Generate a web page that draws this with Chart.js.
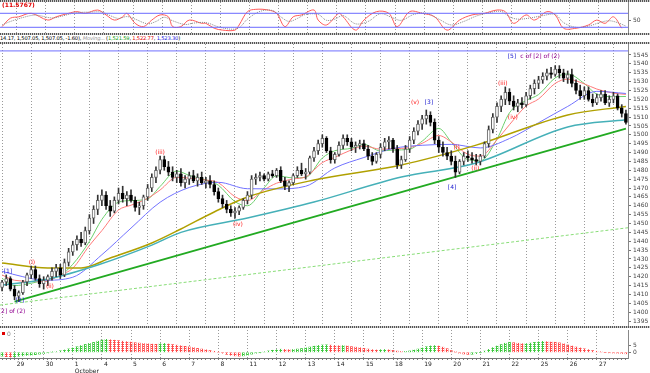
<!DOCTYPE html>
<html><head><meta charset="utf-8">
<script src="https://cdn.jsdelivr.net/npm/chart.js@4.4.1/dist/chart.umd.min.js"></script>
<style>
html,body{margin:0;padding:0;background:#fff;width:650px;height:373px;overflow:hidden;font-family:"DejaVu Sans",sans-serif;}
canvas{position:absolute;left:0;}
.hatch{position:absolute;left:0;width:650px;height:2px;background:repeating-linear-gradient(90deg,#555 0 1px,#ccc 1px 2px);}
.txt{position:absolute;white-space:nowrap;font-size:6px;line-height:7px;}
</style></head><body>
<div class="hatch" style="top:0"></div>
<canvas id="c1" width="650" height="31" style="top:2px"></canvas>
<div class="hatch" style="top:33px"></div>
<div class="txt" style="top:1px;left:2px;color:#e00000;font-weight:bold">(11.5767)</div>
<div class="txt" style="top:35px;left:0;color:#000;font-size:5.2px;letter-spacing:-0.2px">14.17, 1,507.05, 1,507.05, -1.60), <span style="color:#999;font-style:italic">Moving...</span> (<span style="color:#20a020">1,521.59</span>, <span style="color:#e00000">1,522.77</span>, <span style="color:#2020e0">1,523.30</span>)</div>
<div class="hatch" style="top:42px"></div>
<canvas id="c2" width="650" height="282" style="top:44px"></canvas>
<div class="hatch" style="top:326px"></div>
<canvas id="c3" width="650" height="43" style="top:330px"></canvas>
<div style="position:absolute;left:2px;top:332px;width:3px;height:3px;background:#e00000"></div>
<div class="txt" style="top:330px;left:7px;color:#888">0</div>
<script>
// ---------------- DATA ----------------
const dayLabels = ['29','30','1','4','5','6','7','8','11','12','13','14','15','18','19','20','21','22','25','26','27'];
const monthLabels = {'1':'October'};
const leadCandles = 4;      // candles of 28 Sep visible at the left
const candlesPerDay = 7;

// hourly candles [open, high, low, close]
const ohlc = [
// 28 Sep
[1414,1418,1412,1417],[1417,1421,1415,1419],[1419,1420,1412,1413],[1413,1415,1407,1409],
// 29
[1409,1412,1406,1411],[1411,1418,1410,1417],[1417,1422,1415,1421],[1421,1426,1419,1424],[1424,1426,1418,1419],[1419,1421,1414,1416],[1416,1420,1413,1418],
// 30
[1418,1421,1415,1420],[1420,1425,1418,1423],[1423,1427,1420,1425],[1425,1427,1419,1421],[1421,1430,1420,1428],[1428,1436,1426,1434],[1434,1440,1432,1438],
// 1 Oct
[1438,1443,1435,1441],[1441,1445,1437,1439],[1439,1448,1438,1446],[1446,1455,1444,1453],[1453,1460,1450,1458],[1458,1466,1455,1463],[1463,1469,1460,1466],
// 4
[1466,1468,1458,1460],[1460,1463,1454,1457],[1457,1465,1456,1463],[1463,1470,1461,1467],[1467,1471,1462,1464],[1464,1468,1460,1466],[1466,1469,1462,1463],
// 5
[1463,1465,1457,1459],[1459,1462,1455,1460],[1460,1466,1458,1465],[1465,1472,1463,1470],[1470,1478,1468,1476],[1476,1482,1473,1480],[1480,1488,1478,1486],
// 6
[1486,1488,1480,1482],[1482,1485,1477,1479],[1479,1482,1474,1476],[1476,1480,1473,1478],[1478,1481,1471,1473],[1473,1477,1470,1475],[1475,1479,1472,1477],
// 7
[1477,1480,1473,1474],[1474,1478,1471,1476],[1476,1479,1472,1473],[1473,1476,1470,1474],[1474,1477,1470,1472],[1472,1474,1466,1468],[1468,1470,1462,1464],
// 8
[1464,1466,1459,1461],[1461,1463,1456,1458],[1458,1460,1454,1456],[1456,1459,1453,1457],[1457,1460,1455,1459],[1459,1464,1458,1463],[1463,1468,1461,1466],
// 11
[1466,1477,1464,1475],[1475,1478,1472,1476],[1476,1479,1474,1477],[1477,1478,1474,1475],[1475,1479,1474,1478],[1478,1480,1476,1477],[1477,1481,1476,1480],
// 12
[1480,1482,1473,1474],[1474,1476,1469,1471],[1471,1474,1468,1473],[1473,1478,1472,1477],[1477,1482,1476,1480],[1480,1484,1477,1478],[1478,1481,1475,1479],
// 13
[1479,1488,1478,1487],[1487,1493,1485,1491],[1491,1497,1489,1495],[1495,1500,1493,1498],[1498,1499,1490,1491],[1491,1493,1484,1486],[1486,1490,1484,1489],
// 14
[1489,1496,1488,1494],[1494,1500,1492,1498],[1498,1500,1494,1496],[1496,1498,1491,1493],[1493,1496,1490,1494],[1494,1497,1492,1495],[1495,1497,1491,1492],
// 15
[1492,1494,1486,1488],[1488,1490,1483,1485],[1485,1490,1484,1489],[1489,1495,1487,1493],[1493,1498,1491,1496],[1496,1499,1492,1497],[1497,1498,1490,1492],
// 18
[1492,1494,1481,1483],[1483,1488,1481,1486],[1486,1494,1485,1492],[1492,1499,1490,1497],[1497,1504,1495,1502],[1502,1508,1500,1506],[1506,1511,1503,1509],
// 19
[1509,1514,1506,1511],[1511,1513,1505,1507],[1507,1509,1495,1497],[1497,1499,1490,1493],[1493,1496,1488,1490],[1490,1493,1486,1488],[1488,1491,1483,1485],
// 20
[1485,1488,1476,1479],[1479,1486,1478,1485],[1485,1490,1483,1488],[1488,1491,1485,1487],[1487,1490,1484,1486],[1486,1489,1483,1485],[1485,1489,1483,1488],
// 21
[1488,1496,1487,1495],[1495,1505,1493,1503],[1503,1512,1501,1510],[1510,1518,1507,1516],[1516,1522,1513,1520],[1520,1527,1517,1524],[1524,1526,1517,1519],
// 22
[1519,1522,1514,1516],[1516,1520,1513,1518],[1518,1521,1515,1517],[1517,1524,1516,1522],[1522,1528,1520,1526],[1526,1531,1523,1529],[1529,1533,1526,1531],
// 25
[1531,1535,1529,1533],[1533,1537,1531,1535],[1535,1538,1532,1534],[1534,1539,1533,1537],[1537,1539,1532,1535],[1535,1537,1530,1532],[1532,1536,1529,1534],
// 26
[1534,1537,1527,1529],[1529,1531,1523,1525],[1525,1528,1520,1522],[1522,1527,1520,1525],[1525,1527,1519,1520],[1520,1523,1516,1518],[1518,1523,1517,1521],
// 27
[1521,1525,1519,1523],[1523,1525,1517,1518],[1518,1522,1516,1520],[1520,1524,1518,1522],[1522,1523,1514,1515],[1515,1517,1510,1512],[1512,1514,1506,1507]
];

// moving averages: [candle index, price]
const maGreen = [[0,1419],[3,1415],[7,1416.3],[10,1418],[14,1420.7],[17,1427],[21,1439.9],[24,1452.3],[28,1462],[31,1462.9],[35,1463.9],[38,1470.9],[42,1479.6],[45,1477.1],[49,1474.6],[52,1471.6],[56,1462.3],[59,1460],[63,1470.1],[66,1476.9],[70,1475.7],[73,1476],[77,1486.9],[80,1491],[84,1492.4],[87,1494.6],[91,1490.9],[94,1491.4],[98,1491.9],[101,1496.4],[105,1503.6],[108,1495.9],[112,1486],[115,1485.4],[119,1497.6],[122,1512.4],[126,1519.4],[129,1522.7],[133,1532.1],[136,1534.3],[140,1528.9],[143,1522.9],[147,1521.5],[150,1521.6]];
const maRed = [[0,1421],[3,1418],[10,1417.2],[14,1420.9],[17,1424.8],[21,1437.6],[24,1446],[28,1457.6],[31,1460.3],[35,1464.2],[38,1468.9],[42,1476],[45,1475.6],[49,1474.5],[52,1473],[56,1465.1],[59,1462.9],[63,1469],[66,1472.7],[70,1475.1],[73,1476.3],[77,1484.3],[80,1487.3],[84,1491.5],[87,1493.7],[91,1491.9],[94,1492.2],[98,1492.8],[101,1495.2],[105,1499.6],[108,1496],[112,1489],[115,1488],[119,1497.2],[122,1505.7],[126,1516.2],[129,1520.2],[133,1529],[136,1531.4],[140,1528.7],[143,1525.8],[147,1523.5],[150,1522.8]];
const maBlue = [[0,1423],[5,1420],[10,1418],[17,1419.7],[24,1432.4],[31,1447.4],[38,1462],[45,1470.3],[52,1473.2],[59,1469.6],[66,1469.5],[73,1471],[80,1481.3],[87,1487.2],[94,1492.3],[101,1494.1],[108,1494.6],[115,1492.6],[122,1497.9],[129,1506.8],[136,1516],[143,1524.5],[150,1523.3]];
const maOlive = [[0,1427.7],[11,1424.9],[19,1424.9],[26,1430.5],[36,1439],[43,1446.9],[51,1456.5],[59,1464.9],[75,1474.5],[96,1483],[114,1494.2],[136,1511.2],[150,1516]];
const maTeal = [[0,1415.3],[11,1418.7],[23,1426.6],[36,1437.8],[43,1445],[59,1453.1],[75,1462.1],[96,1476.2],[114,1484.1],[136,1504.4],[150,1508.5]];
const trendMain = [[3,1406],[150,1503.5]];
const trendLower = [[-0.5,1404],[150.5,1447.6]];
const levelTop = [[-0.5,1547.3],[150.5,1547.3]];

// stochastic (%K and %D): [candle index, value]
const stochK = [[0,23],[2,59],[4,65],[7,80],[11,51],[13,65],[16,80],[18,87],[20,80],[23,94],[25,73],[27,51],[29,65],[30,80],[32,37],[34,23],[36,51],[38,73],[40,65],[41,23],[43,23],[45,51],[48,37],[49,37],[51,16],[53,8],[56,8],[57,30],[59,87],[61,97],[64,94],[66,80],[68,23],[70,65],[72,73],[75,94],[76,51],[78,30],[81,80],[82,65],[85,8],[87,51],[90,87],[93,80],[95,23],[98,87],[101,80],[104,65],[107,8],[110,51],[113,73],[116,80],[119,94],[121,87],[123,37],[126,73],[128,51],[131,87],[133,73],[135,16],[138,16],[141,30],[143,51],[145,37],[147,65],[149,16]];
const stochD = [[0,30],[2,45],[5,62],[8,72],[12,60],[14,66],[17,80],[19,84],[21,85],[24,85],[26,70],[28,58],[30,66],[32,55],[35,35],[37,45],[39,63],[41,48],[44,32],[46,38],[49,40],[52,22],[55,12],[57,18],[59,55],[62,88],[65,92],[67,65],[69,45],[71,58],[73,75],[76,75],[78,50],[80,55],[82,70],[85,35],[88,45],[91,78],[94,60],[96,50],[99,75],[102,80],[105,55],[108,30],[111,45],[114,68],[117,82],[120,88],[122,65],[124,55],[127,60],[130,70],[133,75],[135,40],[138,20],[141,25],[144,42],[146,48],[148,40],[150,25]];
const stochLevels = [80, 20];

// histogram (bottom panel), one value per candle
const hist = [
-2.6,-3.0,-3.3,-3.1,
-2.6,-2.4,-2.1,-1.9,-1.6,-1.2,-0.8,
-0.4,0.2,0.4,1.0,1.6,2.3,3.0,
3.8,4.6,5.4,6.1,6.8,7.6,8.4,
8.9,8.6,8.3,8.0,7.6,7.3,7.0,
6.6,6.3,6.0,5.8,5.6,5.5,5.9,
6.1,5.7,5.3,4.9,4.5,4.1,3.7,
3.2,2.7,2.2,1.7,1.2,0.7,0.2,
-0.6,-1.4,-2.0,-2.4,-2.6,-2.4,-1.9,
-1.2,-0.6,-0.2,0.3,0.9,1.4,1.8,
2.1,2.0,1.8,1.9,2.2,2.6,3.0,
3.6,4.2,4.7,5.0,5.1,4.9,4.7,
4.5,4.6,4.3,3.9,3.5,3.1,2.7,
2.2,1.8,1.6,1.8,1.9,1.7,1.3,
0.8,0.5,0.6,0.9,1.5,2.2,3.0,
3.8,4.4,4.6,4.3,3.5,2.5,1.2,
0.2,-0.6,-1.1,-1.4,-1.3,-0.9,-0.2,
0.8,2.0,3.2,4.3,5.3,6.2,6.9,
6.6,6.2,5.9,6.0,6.3,6.8,7.2,
7.5,7.3,7.0,6.9,6.5,5.8,5.0,
4.3,3.6,3.0,2.4,1.8,1.2,0.7,
0.3,0.0,-0.3,-0.5,-0.6,-0.8,-1.0
];

const priceTicks = {min:1395, max:1545, step:5};
const stochTicks = [50];
const histTicks = [0, 5];

// Elliott wave labels: [candle index, price, text, kind]
const waveLabels = [
[1.4,1423,'[1]','major'],[7.2,1428,'(i)','minor'],[11.5,1414.5,'(ii)','minor'],[4.3,1406.5,'[2]','major'],
[-0.8,1400.5,'[2] of (2)','cycle'],
[38,1490,'(iii)','minor'],[56.7,1449.5,'(iv)','minor'],
[99.3,1518,'(v)','minor'],[102.6,1518,'[3]','major'],
[109.3,1493,'(i)','minor'],[113.8,1481.3,'(ii)','minor'],[108.2,1470.6,'[4]','major'],
[120.4,1529.2,'(iii)','minor'],[122.8,1510,'(iv)','minor'],
[122.6,1544,'[5]','major'],[124.6,1544,'c of [2] of (2)','cycle']
];

// ---------------- RENDER ----------------
const N = ohlc.length;
const XMIN = -0.5, XMAX = N - 0.5;
const dayStarts = dayLabels.map((d, k) => leadCandles + k * candlesPerDay);
const dayTickVals = dayStarts.map(s => s - 0.5);
const pts = arr => arr.map(([x, y]) => ({x, y}));
const waveColors = {minor:'#ff2020', major:'#2020d0', cycle:'#900090'};
const FONT = '"DejaVu Sans", sans-serif';

function dotPattern(color){
  const c = document.createElement('canvas'); c.width = 2; c.height = 2;
  const g = c.getContext('2d'); g.fillStyle = color; g.fillRect(0, 0, 2, 1); g.fillRect(0, 1, 1, 1);
  return g.createPattern(c, 'repeat');
}
const patGreen = dotPattern('#3cc83c');
const patRed = dotPattern('#ff4a4a');

function hiddenX(){
  return {type:'linear', min:XMIN, max:XMAX, offset:false,
    afterBuildTicks: s => { s.ticks = dayTickVals.map(v => ({value:v})); },
    afterFit: s => { s.height = 0; s.paddingLeft = 0; s.paddingRight = 0; },
    ticks:{display:false}, grid:{color:'#9a9a9a', drawTicks:false, lineWidth:1},
    border:{display:false, dash:[1,2]}};
}
function rightY(min, max, ticks, extra){
  return Object.assign({type:'linear', position:'right', min, max,
    afterBuildTicks: s => { s.ticks = ticks.map(v => ({value:v})); },
    afterFit: s => { s.width = 22; s.paddingTop = 0; s.paddingBottom = 0; },
    ticks:{font:{family:FONT, size:6}, color:'#444', padding:2, autoSkip:false, callback: v => String(v)},
    grid:{drawOnChartArea:false, tickLength:3, tickColor:'#777'},
    border:{display:true, color:'#888'}}, extra||{});
}
const baseOpts = {responsive:false, animation:false, events:[], layout:{padding:0},
  plugins:{legend:{display:false}, tooltip:{enabled:false}}};

// --- stochastic panel
new Chart(document.getElementById('c1'), {
  type:'line',
  data:{datasets:[
    ...stochLevels.map(v => ({data:[{x:XMIN,y:v},{x:XMAX,y:v}], borderColor:'#6a6aff', borderWidth:1, pointRadius:0})),
    {data:pts(stochD), borderColor:'#888', borderWidth:1, borderDash:[1,1], pointRadius:0, tension:0.35},
    {data:pts(stochK), borderColor:'#ff5a5a', borderWidth:1, pointRadius:0, tension:0.35}
  ]},
  options:Object.assign({}, baseOpts, {scales:{x:hiddenX(), y:rightY(-4.4, 128.4, stochTicks)}})
});

// --- main price panel
const ticksPrice = [];
for (let v = priceTicks.min; v <= priceTicks.max; v += priceTicks.step) ticksPrice.push(v);
const up = i => ohlc[i][3] >= ohlc[i][0];
const lineDs = (arr, color, width, extra) => Object.assign({type:'line', data:pts(arr), borderColor:color, borderWidth:width,
  pointRadius:0, cubicInterpolationMode:'monotone', order:2}, extra||{});
const wavePlugin = {id:'waves', afterDatasetsDraw(chart){
  const {ctx, scales:{x, y}} = chart;
  ctx.save(); ctx.font = '6px ' + FONT; ctx.textBaseline = 'middle';
  waveLabels.forEach(([i, p, t, k]) => {
    ctx.fillStyle = waveColors[k];
    ctx.textAlign = (k === 'cycle') ? 'left' : 'center';
    ctx.fillText(t, x.getPixelForValue(i), y.getPixelForValue(p));
  });
  ctx.restore();
}};
new Chart(document.getElementById('c2'), {
  type:'bar',
  data:{datasets:[
    {data:ohlc.map((d, i) => ({x:i, y:[d[2], d[1]]})), backgroundColor:'#333', barThickness:1, grouped:false, order:1},
    {data:ohlc.map((d, i) => ({x:i, y:[d[0], d[3]]})), backgroundColor:c => up(c.dataIndex) ? '#fff' : '#000',
      borderColor:c => up(c.dataIndex) ? '#666' : '#000', borderWidth:1, borderSkipped:false, barThickness:3, grouped:false, order:0},
    lineDs(levelTop, '#7070ff', 1),
    lineDs(trendLower, '#88dd77', 1, {borderDash:[3,2]}),
    lineDs(trendMain, '#22aa22', 1.8),
    lineDs(maTeal, '#45b0b8', 1.5),
    lineDs(maOlive, '#b0a000', 1.5),
    lineDs(maBlue, '#7272ff', 1),
    lineDs(maRed, '#ff7a7a', 1),
    lineDs(maGreen, '#6ccf6c', 1)
  ]},
  options:Object.assign({}, baseOpts, {scales:{x:hiddenX(), y:rightY(1392.2, 1551.2, ticksPrice)}}),
  plugins:[wavePlugin]
});

// --- histogram panel with date axis
const allTickVals = [];
for (let i = 0; i <= N; i++) allTickVals.push(i - 0.5);
const isDayTick = v => dayTickVals.includes(v);
new Chart(document.getElementById('c3'), {
  type:'bar',
  data:{datasets:[{data:hist.map((v, i) => ({x:i, y:v})), barThickness:2,
    backgroundColor:c => (c.dataIndex === 0 || hist[c.dataIndex] >= hist[c.dataIndex - 1]) ? patGreen : patRed}]},
  options:Object.assign({}, baseOpts, {scales:{
    x:{type:'linear', min:XMIN, max:XMAX, offset:false,
      afterBuildTicks: s => { s.ticks = allTickVals.map(v => ({value:v})); },
      afterFit: s => { s.height = 15; s.paddingLeft = 0; s.paddingRight = 0; },
      ticks:{autoSkip:false, maxRotation:0, align:'start', padding:1, color:'#222', font:{family:FONT, size:6}, lineHeight:1,
        callback: v => { const k = dayTickVals.indexOf(v); if (k < 0) return ''; const d = dayLabels[k]; return monthLabels[d] ? [d, monthLabels[d]] : d; }},
      grid:{color:c => isDayTick(c.tick && c.tick.value) ? '#9a9a9a' : 'rgba(0,0,0,0)', tickColor:'#777', tickLength:2},
      border:{display:true, color:'#777', dash:[1,2]}},
    y:rightY(-3.9, 15.3, histTicks)
  }})
});
</script>
</body></html>
